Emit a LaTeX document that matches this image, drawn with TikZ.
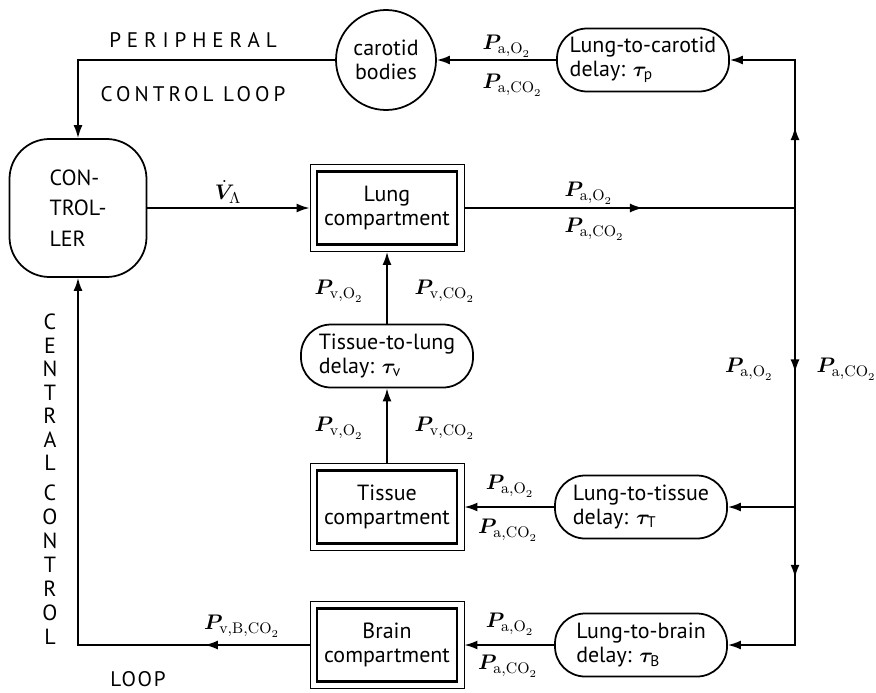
\documentclass[tikz,border=0pt]{standalone}
\usepackage{fontspec}
\usepackage{amsmath}
\usepackage{bm}
\newfontfamily\diagfont{PT Sans}
\newfontfamily\widefont[LetterSpace=28]{PT Sans}
\newfontfamily\midfont[LetterSpace=19]{PT Sans}
\newfontfamily\loopfont[LetterSpace=8]{PT Sans}
\usetikzlibrary{arrows.meta,decorations.markings}

\begin{document}
\begin{tikzpicture}[x=0.2mm, y=-0.2mm, line width=1pt,
    font=\diagfont\fontsize{12.5}{13.5}\selectfont,
    >={Latex[length=2.6mm,width=1.8mm]},
    ctrlbox/.style={draw, rounded corners=8mm, minimum width=27.4mm, minimum height=27.6mm, align=left},
    delaybox/.style={draw, rounded corners=6mm, minimum width=34.4mm, minimum height=12.6mm, align=left, inner sep=2pt},
    compbox/.style={draw, line width=0.5pt, minimum width=30.8mm, minimum height=17.4mm, align=center,
        path picture={\draw[line width=1.6pt] ([shift={(1.4mm,-1.4mm)}]path picture bounding box.north west)
            rectangle ([shift={(-1.4mm,1.4mm)}]path picture bounding box.south east);}},
    midarrow/.style={postaction={decorate}, decoration={markings, mark=at position #1 with {\arrow{>}}}},
    widelbl/.style={font=\widefont\fontsize{12}{14}\selectfont},
    midlbl/.style={font=\midfont\fontsize{12}{14}\selectfont},
    looplbl/.style={font=\loopfont\fontsize{12}{14}\selectfont}]
    \useasboundingbox (0,0) rectangle (876,692);

    % --- Blocks ---
    \node[ctrlbox] (ctrl) at (78,208) {CON-\\[4pt]TROL-\\[4pt]LER};
    \node[draw, circle, minimum size=20mm, inner sep=0pt, align=center] (carotid) at (386,60) {carotid\\bodies};
    \node[delaybox] (lcar) at (643,60) {Lung-to-carotid\\delay: $\bm{\tau}_{\text{p}}$};
    \node[compbox] (lung) at (387,208) {Lung\\compartment};
    \node[delaybox] (tlung) at (387,356) {Tissue-to-lung\\delay: $\bm{\tau}_{\text{v}}$};
    \node[compbox] (tissue) at (387,507) {Tissue\\compartment};
    \node[compbox] (brain) at (387,645) {Brain\\compartment};
    \node[delaybox] (ltis) at (641,507) {Lung-to-tissue\\delay: $\bm{\tau}_{\text{T}}$};
    \node[delaybox] (lbr) at (641,645) {Lung-to-brain\\delay: $\bm{\tau}_{\text{B}}$};

    % --- Arterial line on the right ---
    \coordinate (busjoin) at (795,208);
    \coordinate (bustis) at (795,507);

    % --- Connectors ---
    \draw[->] (ctrl) -- (lung);
    \draw[midarrow=0.54] (lung) -- (busjoin);
    \draw[->, midarrow=0.38] (busjoin) |- (lcar.east);
    \draw[->] (lcar) -- (carotid);
    \draw[->] (carotid.west) -| (ctrl.north);
    \draw[midarrow=0.55] (busjoin) -- (bustis);
    \draw[->] (bustis) -- (ltis);
    \draw[->, midarrow=0.345] (bustis) |- (lbr.east);
    \draw[->] (ltis) -- (tissue);
    \draw[->] (lbr) -- (brain);
    \draw[->] (tissue) -- (tlung);
    \draw[->] (tlung) -- (lung);
    \draw[->, midarrow=0.175] (brain.west) -| (ctrl.south);

    % --- Signal labels ---
    \node[inner sep=1pt] (va) at (228,192) {$\dot{\bm{V}}_{\Lambda}$};
    \node[anchor=west] (carpo) at (476,46) {$\bm{P}_{\mathrm{a,O}_2}$};
    \node[anchor=west] (carpco) at (476,85) {$\bm{P}_{\mathrm{a,CO}_2}$};
    \node[anchor=west] (outpo) at (558,193) {$\bm{P}_{\mathrm{a,O}_2}$};
    \node[anchor=west] (outpco) at (558,229) {$\bm{P}_{\mathrm{a,CO}_2}$};
    \node[anchor=east] (buspo) at (780,369) {$\bm{P}_{\mathrm{a,O}_2}$};
    \node[anchor=west] (buspco) at (810,369) {$\bm{P}_{\mathrm{a,CO}_2}$};
    \node[anchor=east] (vupo) at (370,291) {$\bm{P}_{\mathrm{v,O}_2}$};
    \node[anchor=west] (vupco) at (408,291) {$\bm{P}_{\mathrm{v,CO}_2}$};
    \node[anchor=east] (vlopo) at (370,428) {$\bm{P}_{\mathrm{v,O}_2}$};
    \node[anchor=west] (vlopco) at (408,428) {$\bm{P}_{\mathrm{v,CO}_2}$};
    \node (tispo) at (510,486) {$\bm{P}_{\mathrm{a,O}_2}$};
    \node (tispco) at (508,530) {$\bm{P}_{\mathrm{a,CO}_2}$};
    \node (brpo) at (510,624) {$\bm{P}_{\mathrm{a,O}_2}$};
    \node (brpco) at (508,666) {$\bm{P}_{\mathrm{a,CO}_2}$};
    \node (brout) at (242,626) {$\bm{P}_{\mathrm{v,B,CO}_2}$};

    % --- Loop names ---
    \node[widelbl] (periph) at (193,40) {PERIPHERAL};
    \node[midlbl] (pctrl) at (193,94) {CONTROL LOOP};
    \foreach \ch [count=\i from 0] in {C,E,N,T,R,A,L}
        \node (cen\i) at (50,322+23.5*\i) {\ch};
    \foreach \ch [count=\i from 0] in {C,O,N,T,R,O,L}
        \node (con\i) at (50,493+24*\i) {\ch};
    \node[looplbl, inner sep=0pt] (cloop) at (138,679) {LOOP};
\end{tikzpicture}
\end{document}
